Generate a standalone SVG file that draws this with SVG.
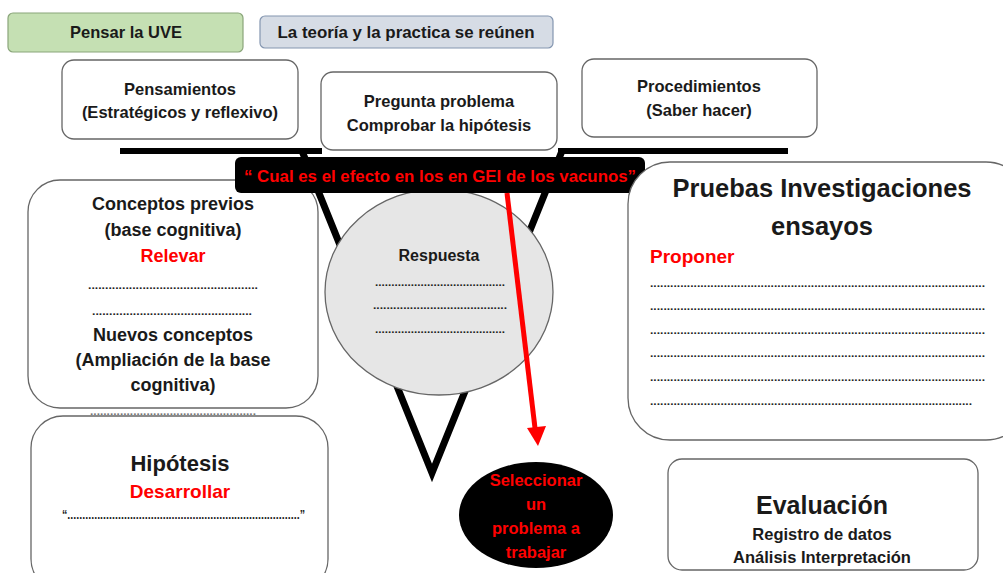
<svg xmlns="http://www.w3.org/2000/svg" width="1003" height="573" viewBox="0 0 1003 573">
<defs>
<style>
.box{fill:#fff;stroke:#666;stroke-width:1.3}
.t{font-family:"Liberation Sans",Arial,sans-serif;font-weight:bold;fill:#1a1a1a;text-anchor:middle}
.r{fill:#ff0000}
.d{font-family:"Liberation Sans",Arial,sans-serif;font-weight:bold;fill:#222;font-size:11px}
</style>
</defs>
<rect width="1003" height="573" fill="#fff"/>

<g id="pensar-uve">
<rect x="8" y="13" width="235" height="39" rx="5" fill="#c5e0b3" stroke="#8aa57a" stroke-width="1.2"/>
<text class="t" x="126" y="38" font-size="16.5">Pensar la UVE</text>
</g>
<g id="teoria-practica">
<rect x="260" y="16" width="293" height="32" rx="5" fill="#d6dce5" stroke="#8496b0" stroke-width="1.2"/>
<text class="t" x="406" y="38" font-size="16.5" textLength="257" lengthAdjust="spacingAndGlyphs">La teoría y la practica se reúnen</text>
</g>
<g id="pensamientos">
<rect class="box" x="62" y="60" width="236" height="79" rx="12"/>
<text class="t" x="180" y="95" font-size="16.5">Pensamientos</text>
<text class="t" x="180" y="118" font-size="16.5">(Estratégicos y reflexivo)</text>
</g>
<g id="pregunta">
<rect class="box" x="321" y="72" width="236" height="78" rx="12"/>
<text class="t" x="439" y="107" font-size="16.5">Pregunta problema</text>
<text class="t" x="439" y="131" font-size="16.5">Comprobar la hipótesis</text>
</g>
<g id="procedimientos">
<rect class="box" x="582" y="59" width="235" height="78" rx="12"/>
<text class="t" x="699" y="92" font-size="16.5">Procedimientos</text>
<text class="t" x="699" y="116" font-size="16.5">(Saber hacer)</text>
</g>

<g id="uve">
<line x1="120" y1="151" x2="322" y2="151" stroke="#000" stroke-width="6"/>
<line x1="558" y1="151" x2="788" y2="151" stroke="#000" stroke-width="6"/>
<polyline points="302,151 432,473 562,151" fill="none" stroke="#000" stroke-width="7" stroke-linejoin="miter"/>
</g>

<g id="conceptos">
<rect class="box" x="28" y="180" width="290" height="228" rx="32"/>
<text class="t" x="173" y="210" font-size="18">Conceptos previos</text>
<text class="t" x="173" y="236" font-size="18">(base cognitiva)</text>
<text class="t r" x="173" y="262" font-size="18">Relevar</text>
<text class="d" x="88" y="289" textLength="170" lengthAdjust="spacingAndGlyphs">..................................................</text>
<text class="d" x="92" y="315" textLength="160" lengthAdjust="spacingAndGlyphs">...............................................</text>
<text class="t" x="173" y="341" font-size="18">Nuevos conceptos</text>
<text class="t" x="173" y="366" font-size="18">(Ampliación de la base</text>
<text class="t" x="173" y="391" font-size="18">cognitiva)</text>
</g>
<text class="d" x="90" y="415" textLength="166" lengthAdjust="spacingAndGlyphs" style="fill:#777">..................................................</text>

<g id="respuesta">
<ellipse cx="439" cy="292" rx="114" ry="103" fill="#e6e6e6" stroke="#666" stroke-width="1.3"/>
<text class="t" x="439" y="261" font-size="16">Respuesta</text>
<text class="d" x="375" y="286" textLength="130" lengthAdjust="spacingAndGlyphs">........................................</text>
<text class="d" x="373" y="309" textLength="134" lengthAdjust="spacingAndGlyphs">........................................</text>
<text class="d" x="375" y="333" textLength="130" lengthAdjust="spacingAndGlyphs">........................................</text>
</g>

<g id="pregunta-vacunos">
<rect x="235" y="157" width="410" height="36" rx="6" fill="#000"/>
<text class="t r" x="440" y="182" font-size="16" textLength="392" lengthAdjust="spacingAndGlyphs">“ Cual es el efecto en los en GEI de los vacunos”</text>
</g>

<g id="pruebas">
<rect class="box" x="628" y="162" width="400" height="278" rx="42"/>
<text class="t" x="822" y="197" font-size="25.5">Pruebas Investigaciones</text>
<text class="t" x="822" y="235" font-size="25.5">ensayos</text>
<text class="t r" x="650" y="263" font-size="19" style="text-anchor:start">Proponer</text>
<text class="d" x="650" y="287" textLength="335" lengthAdjust="spacingAndGlyphs">....................................................................................................</text>
<text class="d" x="650" y="310" textLength="335" lengthAdjust="spacingAndGlyphs">....................................................................................................</text>
<text class="d" x="650" y="334" textLength="335" lengthAdjust="spacingAndGlyphs">....................................................................................................</text>
<text class="d" x="650" y="357" textLength="335" lengthAdjust="spacingAndGlyphs">....................................................................................................</text>
<text class="d" x="650" y="381" textLength="335" lengthAdjust="spacingAndGlyphs">....................................................................................................</text>
<text class="d" x="650" y="405" textLength="322" lengthAdjust="spacingAndGlyphs">................................................................................................</text>
</g>

<g id="hipotesis">
<rect class="box" x="31" y="416" width="297" height="175" rx="32"/>
<text class="t" x="180" y="471" font-size="22">Hipótesis</text>
<text class="t r" x="180" y="498" font-size="19">Desarrollar</text>
<text class="d" x="62" y="519" textLength="243" lengthAdjust="spacingAndGlyphs" style="font-size:13px">“..............................................................................”</text>
</g>

<g id="seleccionar">
<ellipse cx="536" cy="515" rx="77" ry="53" fill="#000"/>
<text class="t r" x="536" y="486" font-size="16.5">Seleccionar</text>
<text class="t r" x="536" y="510" font-size="16.5">un</text>
<text class="t r" x="536" y="534" font-size="16.5">problema a</text>
<text class="t r" x="536" y="558" font-size="16.5">trabajar</text>
</g>

<g id="evaluacion">
<rect class="box" x="668" y="459" width="310" height="111" rx="14"/>
<text class="t" x="822" y="514" font-size="25">Evaluación</text>
<text class="t" x="822" y="540" font-size="16.5">Registro de datos</text>
<text class="t" x="822" y="563" font-size="16.5">Análisis Interpretación</text>
</g>

<g id="connectors">
<line x1="507" y1="193" x2="535" y2="428" stroke="#ff0000" stroke-width="5"/>
<path d="M527,428 L546,426 L538,446 z" fill="#ff0000"/>
</g>
</svg>
